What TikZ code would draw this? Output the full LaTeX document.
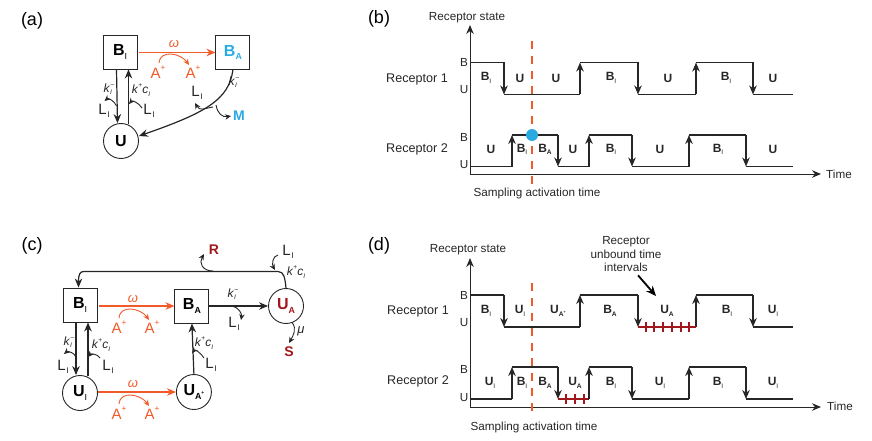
\documentclass[tikz,border=0pt]{standalone}
\usepackage{fontspec}
\usepackage{graphicx}
\setmainfont{Liberation Sans}
\usetikzlibrary{positioning}
\usetikzlibrary{arrows.meta}

\definecolor{actorange}{HTML}{F15A29}
\definecolor{actblue}{HTML}{29ABE2}
\definecolor{sigred}{HTML}{A0181C}
\definecolor{inkgray}{HTML}{262626}

\newcommand{\sizedfont}[1]{\fontsize{#1}{#1}\selectfont}
\newcommand{\lowered}[1]{\raisebox{-0.22em}{\scalebox{0.55}{#1}}}
\newcommand{\raised}[1]{\raisebox{0.5em}{\scalebox{0.55}{#1}}}
\newcommand{\BI}{B\lowered{\normalfont I}}
\newcommand{\BA}{B\lowered{A}}
\newcommand{\UI}{U\lowered{\normalfont I}}
\newcommand{\UA}{U\lowered{A}}
\newcommand{\UAs}{U\lowered{A\raised{+}}}
\newcommand{\LI}{L\kern0.05em\lowered{I}}
\newcommand{\Aplus}{A\raised{+}}
\newcommand{\kOff}{\textit{k}\rlap{\lowered{\textit{I}}}\kern0.05em\raised{–}}
\newcommand{\kOn}{\textit{k}\raised{+}\textit{c}\lowered{\textit{I}}}
% small curved arrow between two named points
\newcommand{\curl}[5][curl]{
  \coordinate (#2s) at #3;
  \coordinate (#2e) at #4;
  \draw[#1] (#2s) to[#5] (#2e);
}

\begin{document}
\begin{tikzpicture}[
    x=1pt, y=-1pt,
    >={Stealth[length=9pt,width=7.5pt]},
    statebox/.style={draw=inkgray, line width=0.9pt, minimum size=34pt, inner sep=0pt, font=\sizedfont{16}\bfseries},
    statecirc/.style={circle, draw=inkgray, line width=0.9pt, minimum size=35pt, inner sep=0pt, font=\sizedfont{16}\bfseries},
    wire/.style={->, line width=1.2pt, draw=inkgray},
    drive/.style={->, line width=1.2pt, draw=actorange},
    curl/.style={-{Stealth[length=6pt,width=5.5pt]}, line width=0.9pt, draw=inkgray},
    curlact/.style={curl, draw=actorange},
    panel/.style={inner sep=0pt, font=\sizedfont{18}},
    rate/.style={inner sep=0pt, font=\sizedfont{12}, text=inkgray},
    ligand/.style={inner sep=0pt, font=\sizedfont{15}, text=inkgray},
    agonist/.style={inner sep=0pt, font=\sizedfont{15}, text=actorange},
    omegalab/.style={inner sep=0pt, font=\sizedfont{13}\itshape, text=actorange},
    sink/.style={inner sep=0pt, font=\sizedfont{14}\bfseries},
    axislab/.style={inner sep=0pt, font=\sizedfont{11.7}, text=inkgray},
    rowlab/.style={inner sep=0pt, font=\sizedfont{12.6}, text=inkgray},
    seglab/.style={inner sep=0pt, font=\sizedfont{12}\bfseries, text=inkgray},
    axis/.style={->, line width=1pt, draw=inkgray},
    level/.style={line width=1.8pt, draw=inkgray},
    jump/.style={->, line width=1.8pt, draw=inkgray},
    sample/.style={dash pattern=on 8pt off 7pt, line width=1.5pt, draw=actorange},
    bar/.style={line width=2.6pt, draw=sigred},
    barmark/.style={line width=1.2pt, draw=sigred}
  ]
  \useasboundingbox (0,0) rectangle (872,441);

  % panel a
  \node (aTag) [panel] at (32,21) {(a)};
  \node (aBI) [statebox] at (120,52) {\BI};
  \node (aBA) [statebox, right=78pt of aBI, text=actblue, yshift=-0.5pt] {\BA};
  \node (aU) [statecirc] at (121,141) {U};
  \draw[wire] ([xshift=-3.5pt]aBI.south) -- ([xshift=-3.5pt]aU.north);
  \draw[wire] ([xshift=7.5pt,yshift=-1pt]aU.north) -- ([xshift=8.5pt]aBI.south);
  \draw[drive] ([xshift=2pt,yshift=-0.5pt]aBI.east) -- (aBA.west);
  \draw[wire] (aBA.south) .. controls (229,100) and (205,113) .. (aU.east |- 0,136);
  \node (aOmega) [omegalab] at (174,44) {ω};
  \node (aAl) [agonist] at (158,72) {\Aplus};
  \node (aAr) [agonist] at (193,72) {\Aplus};
  \curl[curlact]{aAc}{(159,63)}{(189,65)}{out=85, in=125, looseness=1.2}
  \node (aK1) [rate] at (109,89) {\kOff};
  \node (aK2) [rate] at (141,90) {\kOn};
  \node (aL1) [ligand] at (104,111) {\LI};
  \node (aL2) [ligand] at (149,111) {\LI};
  \curl{aC1}{(116.5,106)}{(104.5,101)}{out=110, in=40}
  \curl{aC2}{(142,108)}{(129,104)}{out=120, in=50}
  \node (aK3) [rate] at (234,82) {\kOff};
  \node (aL3) [ligand] at (197,93) {\LI};
  \node (aM) [sink, text=actblue] at (239,116) {M};
  \curl{aC3}{(213,107)}{(195,103)}{out=190, in=-60, looseness=1.3}
  \curl{aC4}{(216,105)}{(231,116)}{out=-80, in=190, looseness=1.2}

  % panel b
  \node (bTag) [panel] at (379,19) {(b)};
  \node (bTitle) [axislab] at (467,18) {Receptor state};
  \coordinate (bO) at (470,174);
  \coordinate (bT) at (470,25);
  \coordinate (bE) at (821,174);
  \draw[axis] (bO) -- (bT);
  \draw[axis] (bO) -- (bE);
  \node (bTime) [axislab] at (839,174) {Time};
  \node (bR1) [rowlab] at (417,79) {Receptor 1};
  \node (bR2) [rowlab] at (417,149) {Receptor 2};
  \node (bB1) [axislab] at (464,62) {B};
  \node (bU1) [axislab] at (464,90) {U};
  \node (bB2) [axislab] at (464,137) {B};
  \node (bU2) [axislab] at (464,165) {U};
  \node (bSample) [axislab] at (537,193) {Sampling activation time};
  \foreach \xa/\xb/\ya/\yb in {470/504/62.5/94.5, 504/580/94.5/62.5, 580/638/62.5/94.5, 638/696/94.5/62.5, 696/753/62.5/94.5,
                               470/512/166.5/135, 512/558/135/166.5, 558/589/166.5/135, 589/632/135/166.5, 632/689/166.5/135, 689/746/135/166.5} {
    \draw[level] (\xa,\ya) -- (\xb,\ya);
    \draw[jump] (\xb,\ya) -- (\xb,\yb);
  }
  \draw[level] (753,94.5) -- (793,94.5);
  \draw[level] (746,166.5) -- (793,166.5);
  \draw[sample] (532,41) -- (532,186);
  \node (bDot) [circle, fill=actblue, inner sep=0pt, minimum size=12pt] at (532,135) {};
  \foreach \x/\txt [count=\i] in {486/\BI, 520/U, 556/U, 611/\BI, 668/U, 726/\BI, 773/U}
    \node (bS1\i) [seglab] at (\x,78) {\txt};
  \foreach \x/\txt [count=\i] in {491/U, 522/\BI, 545/\BA, 573/U, 611/\BI, 660/U, 718/\BI, 773/U}
    \node (bS2\i) [seglab] at (\x,149.5) {\txt};

  % panel c
  \node (cTag) [panel] at (32,246) {(c)};
  \node (cBI) [statebox] at (80,305) {\BI};
  \node (cBA) [statebox, right=77pt of cBI, yshift=-1pt] {\BA};
  \node (cUA) [statecirc, text=sigred] at (286,306) {\UA};
  \node (cUI) [statecirc] at (80,393) {\UI};
  \node (cUS) [statecirc, right=78pt of cUI, yshift=1pt] {\UAs};
  \draw[drive] ([xshift=2pt,yshift=-1pt]cBI.east) -- (cBA.west);
  \draw[drive] ([yshift=1pt]cUI.east) -- (cUS.west);
  \draw[wire] (cBA.east) -- (cUA.west);
  \draw[wire] ([xshift=-4pt]cBI.south) -- ([xshift=-4pt]cUI.north);
  \draw[wire] ([xshift=8pt,yshift=-1pt]cUI.north) -- ([xshift=8pt]cBI.south);
  \draw[wire] (cUS.north) -- (cBA.south);
  \draw[wire] (cUA.north) .. controls (285,278) and (284,271.5) .. (278,271.5) -- (84,271.5)
     .. controls (80,271.5) and (78.5,274) .. ([xshift=-1.5pt]cBI.north);
  \node (cR) [sink, text=sigred] at (214,250) {R};
  \node (cS) [sink, text=sigred] at (289,352) {S};
  \curl{cC1}{(213,271)}{(204,254)}{out=180, in=-120, looseness=1.4}
  \node (cL1) [ligand] at (288,252) {\LI};
  \node (cK1) [rate] at (296,272) {\kOn};
  \curl{cC2}{(278,255)}{(275,270)}{out=190, in=120}
  \node (cK2) [rate] at (233,294) {\kOff};
  \node (cL2) [ligand] at (234,324) {\LI};
  \curl{cC3}{(232,306)}{(241,320)}{out=-10, in=80}
  \coordinate (cUAs) at (292,322.5);
  \coordinate (cSn) at (289,343);
  \draw[curl] (cUAs) to[out=-50, in=60] (cSn);
  \node (cMu) [omegalab, text=inkgray] at (301,331) {μ};
  \node (cOm1) [omegalab] at (133,299) {ω};
  \node (cAl1) [agonist] at (119,327) {\Aplus};
  \node (cAr1) [agonist] at (152,327) {\Aplus};
  \curl[curlact]{cA1}{(119,318)}{(149,320)}{out=85, in=125, looseness=1.2}
  \node (cOm2) [omegalab] at (133,384) {ω};
  \node (cAl2) [agonist] at (119,413) {\Aplus};
  \node (cAr2) [agonist] at (152,413) {\Aplus};
  \curl[curlact]{cA2}{(119,404)}{(149,406)}{out=85, in=125, looseness=1.2}
  \node (cK3) [rate] at (69,342) {\kOff};
  \node (cK4) [rate] at (101,345) {\kOn};
  \node (cK5) [rate] at (204,343) {\kOn};
  \node (cL3) [ligand] at (63,367) {\LI};
  \node (cL4) [ligand] at (108,367) {\LI};
  \node (cL5) [ligand] at (211,365) {\LI};
  \curl{cC4}{(76,357)}{(64,354)}{out=110, in=40}
  \curl{cC5}{(100,358)}{(88,357)}{out=120, in=50}
  \curl{cC6}{(204,358)}{(192,353)}{out=120, in=50}

  % panel d
  \node (dTag) [panel] at (379,246) {(d)};
  \node (dTitle) [axislab] at (468,250) {Receptor state};
  \coordinate (dO) at (470,407);
  \coordinate (dT) at (470,258);
  \coordinate (dE) at (821,407);
  \draw[axis] (dO) -- (dT);
  \draw[axis] (dO) -- (dE);
  \node (dTime) [axislab] at (840,406) {Time};
  \node (dR1) [rowlab] at (418,311) {Receptor 1};
  \node (dR2) [rowlab] at (418,381) {Receptor 2};
  \node (dB1) [axislab] at (464,295) {B};
  \node (dU1) [axislab] at (464,323) {U};
  \node (dB2) [axislab] at (464,369) {B};
  \node (dU2) [axislab] at (464,398) {U};
  \node (dSample) [axislab] at (534,427) {Sampling activation time};
  \foreach \xa/\xb/\ya/\yb in {470/504/295/327, 504/580/327/295, 580/638/295/327, 638/696/327/295, 696/753/295/327,
                               470/512/399/367, 512/558/367/399, 558/589/399/367, 589/632/367/399, 632/689/399/367, 689/746/367/399} {
    \draw[level] (\xa,\ya) -- (\xb,\ya);
    \draw[jump] (\xb,\ya) -- (\xb,\yb);
  }
  \draw[level] (753,327) -- (793,327);
  \draw[level] (746,399) -- (793,399);
  \draw[sample] (532,283) -- (532,418);
  \draw[bar] (638,327) -- (696,327);
  \draw[bar] (558,399) -- (588,399);
  \foreach \x in {646,654,663,672,681,689}
    \draw[barmark] (\x,322) -- (\x,332);
  \foreach \x in {566,575,584}
    \draw[barmark] (\x,394) -- (\x,404);
  \foreach \x/\txt [count=\i] in {486/\BI, 520/\UI, 558/\UAs, 610/\BA, 667/\UA, 727/\BI, 773/\UI}
    \node (dS1\i) [seglab] at (\x,311) {\txt};
  \foreach \x/\txt [count=\i] in {490/\UI, 522/\BI, 545/\BA, 575/\UA, 611/\BI, 660/\UI, 718/\BI, 773/\UI}
    \node (dS2\i) [seglab] at (\x,383) {\txt};
  \node (dNote) [inner sep=0pt, align=center, text=inkgray, font=\fontsize{11.7}{13.5}\selectfont] at (626,254.5) {Receptor\\unbound time\\intervals};
  \coordinate (dPoint) at (656,296);
  \draw[->, line width=1.8pt, >={Stealth[length=10pt,width=8.5pt]}] ([xshift=12pt,yshift=-3pt]dNote.south) -- (dPoint);
\end{tikzpicture}
\end{document}
